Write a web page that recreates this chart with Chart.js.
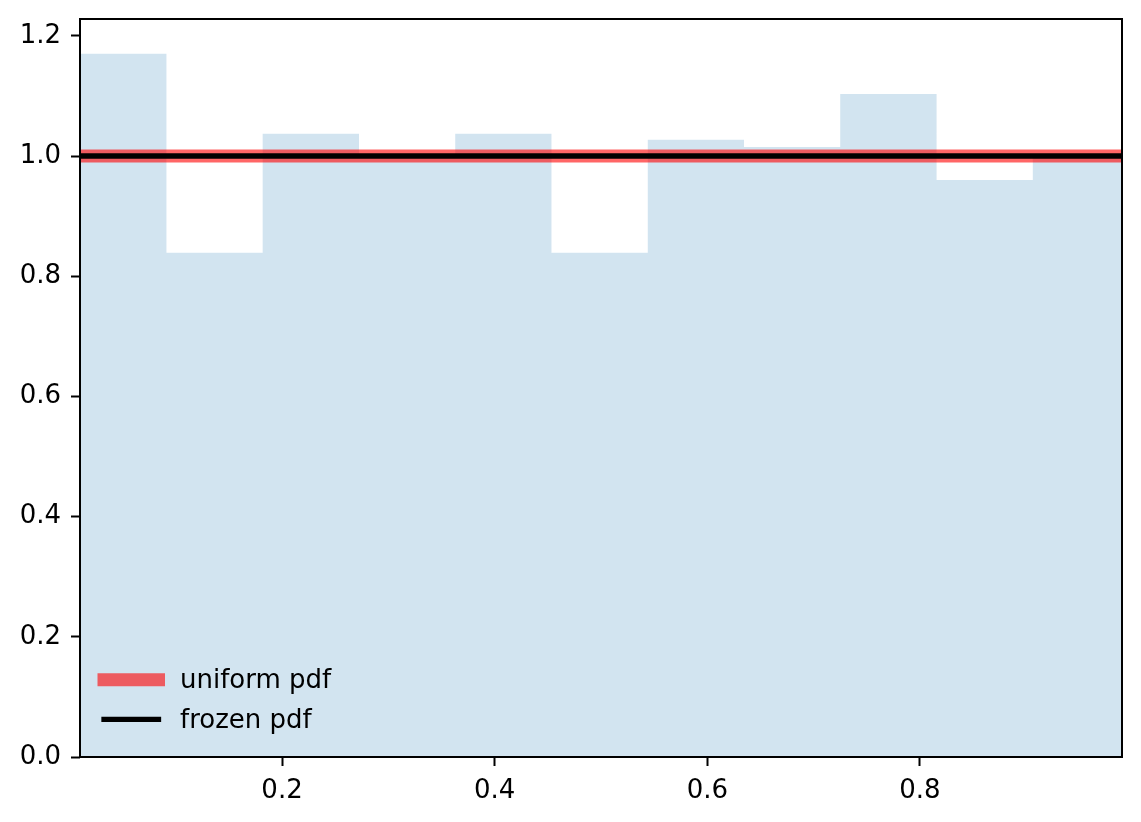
<!DOCTYPE html>
<html>
<head>
<meta charset="utf-8">
<script src="https://cdn.jsdelivr.net/npm/chart.js@4/dist/chart.umd.min.js"></script>
<style>
  html, body { margin: 0; padding: 0; background: #ffffff; }
  #wrap { width: 1141px; height: 822px; position: relative; }
  canvas { display: block; }
</style>
</head>
<body>
<div id="wrap"><canvas id="c" width="1141" height="822"></canvas></div>
<script>
// ---- data ----
const binEdges = [0.0008, 0.0913, 0.1818, 0.2724, 0.3629, 0.4534, 0.5440, 0.6345, 0.7250, 0.8156, 0.9061, 0.9966];
const binDensity = [1.170, 0.839, 1.037, 1.000, 1.037, 0.839, 1.027, 1.015, 1.103, 0.960, 1.000];
const pdfX = [0.01, 0.99];
const uniformPdf = [1.0, 1.0];
const frozenPdf = [1.0, 1.0];
const xTicks = [0.2, 0.4, 0.6, 0.8];
const yTicks = [0.0, 0.2, 0.4, 0.6, 0.8, 1.0, 1.2];
const legendLabels = ['uniform pdf', 'frozen pdf'];
const xRange = [0.01, 0.99];
const yRange = [0, 1.228];

// ---- build library structures ----
const histPoints = binEdges.map((x, i) => ({ x: x, y: binDensity[Math.min(i, binDensity.length - 1)] }));
const uniformPoints = pdfX.map((x, i) => ({ x: x, y: uniformPdf[i] }));
const frozenPoints = pdfX.map((x, i) => ({ x: x, y: frozenPdf[i] }));

const FONT = { family: 'DejaVu Sans', size: 26 };
const YFONT = { family: 'DejaVu Sans', size: 26, lineHeight: 0.5 };
const RED = 'rgba(255,0,0,0.6)';

const framePlugin = {
  id: 'frame',
  afterDraw(chart) {
    const { ctx, chartArea: a } = chart;
    ctx.save();
    ctx.strokeStyle = '#000';
    ctx.lineWidth = 2;
    ctx.strokeRect(a.left, a.top, a.right - a.left, a.bottom - a.top);
    // legend (no frame), lower left inside axes
    const rows = [
      { label: legendLabels[0], color: RED, width: 13, y: 679.7 },
      { label: legendLabels[1], color: '#000', width: 5.3, y: 719.4 }
    ];
    const hx0 = a.left + 24, hx1 = a.left + 78.5, tx = a.left + 100;
    rows.forEach(r => {
      ctx.beginPath();
      ctx.strokeStyle = r.color;
      ctx.lineWidth = r.width;
      ctx.lineCap = 'square';
      ctx.moveTo(hx0, r.y);
      ctx.lineTo(hx1, r.y);
      ctx.stroke();
      ctx.fillStyle = '#000';
      ctx.font = FONT.size + 'px "' + FONT.family + '"';
      ctx.textBaseline = 'alphabetic';
      ctx.textAlign = 'left';
      ctx.fillText(r.label, tx, r.y + 8.4);
    });
    ctx.restore();
  }
};

new Chart(document.getElementById('c'), {
  type: 'scatter',
  data: {
    datasets: [
      {
        label: legendLabels[1],
        data: frozenPoints,
        showLine: true,
        borderColor: '#000',
        borderWidth: 5.3,
        pointRadius: 0,
        borderCapStyle: 'square',
        order: 0
      },
      {
        label: legendLabels[0],
        data: uniformPoints,
        showLine: true,
        borderColor: RED,
        borderWidth: 13,
        pointRadius: 0,
        borderCapStyle: 'square',
        order: 1
      },
      {
        label: 'histogram',
        data: histPoints,
        showLine: true,
        stepped: 'before',
        fill: 'origin',
        backgroundColor: 'rgba(31,119,180,0.2)',
        borderColor: 'rgba(0,0,0,0)',
        borderWidth: 0.001,
        pointRadius: 0,
        order: 2
      }
    ]
  },
  options: {
    responsive: false,
    animation: false,
    devicePixelRatio: 1,
    events: [],
    layout: { padding: { top: 19, right: 19, left: 0, bottom: 0 } },
    plugins: { legend: { display: false }, tooltip: { enabled: false } },
    scales: {
      x: {
        type: 'linear',
        min: xRange[0],
        max: xRange[1],
        afterBuildTicks: s => { s.ticks = xTicks.map(v => ({ value: v })); },
        afterFit: s => { s.height = 65; },
        ticks: {
          font: FONT, color: '#000', padding: 10, maxRotation: 0, autoSkip: false,
          callback: v => Number(v).toFixed(1)
        },
        grid: {
          display: true, drawOnChartArea: false, drawTicks: true,
          tickLength: 9, tickWidth: 2, tickColor: '#000', color: '#000'
        },
        border: { display: false }
      },
      y: {
        type: 'linear',
        min: yRange[0],
        max: yRange[1],
        afterBuildTicks: s => { s.ticks = yTicks.map(v => ({ value: v })); },
        afterFit: s => { s.width = 80; },
        ticks: {
          font: YFONT, color: '#000', padding: 10, autoSkip: false,
          callback: v => Number(v).toFixed(1)
        },
        grid: {
          display: true, drawOnChartArea: false, drawTicks: true,
          tickLength: 9, tickWidth: 2, tickColor: '#000', color: '#000'
        },
        border: { display: false }
      }
    }
  },
  plugins: [framePlugin]
});
</script>
</body>
</html>
